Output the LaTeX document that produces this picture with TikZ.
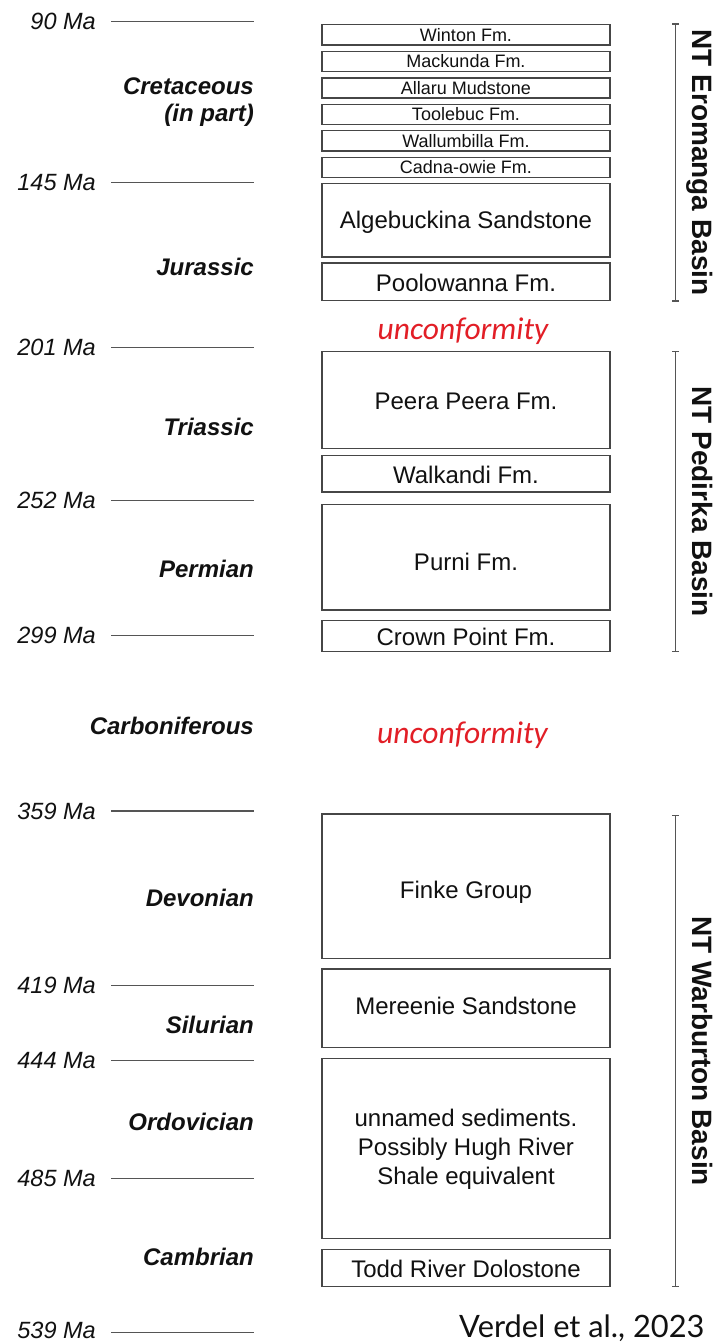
\documentclass[tikz,border=0pt]{standalone}
\usepackage{fontspec}
\setmainfont{Liberation Sans}
\newfontfamily\unconffont{Carlito}
\newfontfamily\creditfont{Lato}

\definecolor{rulegray}{RGB}{85,85,85}
\definecolor{boxgray}{RGB}{70,70,70}
\definecolor{unconfred}{RGB}{226,30,38}
\definecolor{ink}{RGB}{17,17,17}

% one lithostratigraphic unit: box between two depths plus its label
% #1 name, #2 top, #3 bottom, #4 label centre, #5 font size, #6 label
\newcommand\formation[6]{%
  \node[unitbox, minimum height={#3-#2}] (#1) at (466,{(#2+#3)/2}) {};
  \node[unittext, font=\fontsize{#5}{#5}\selectfont] (#1-t) at (466,#4) {#6};
}
% age tick with its label
\newcommand\agetick[3]{%
  \coordinate (#1-a) at (111,#2);
  \coordinate (#1-b) at (254,#2);
  \draw[tickline] (#1-a) -- (#1-b);
  \node[agelabel] (#1-l) at (96,#3) {#1 Ma};
}
% basin bracket on the right
\newcommand\basin[4]{%
  \coordinate (#1-top) at (675.7,#2);
  \coordinate (#1-bot) at (675.7,#3);
  \draw[bracketline] (#1-top) -- (#1-bot);
  \draw[bracketline] ([xshift=-3.5pt]#1-top) -- ([xshift=3.5pt]#1-top);
  \draw[bracketline] ([xshift=-3.5pt]#1-bot) -- ([xshift=3.5pt]#1-bot);
  \node[basinlabel] (#1-l) at (692,{(#2+#3)/2}) {#4};
}

\begin{document}
\begin{tikzpicture}[x=1pt,y=-1pt,
  unitbox/.style={draw=boxgray, line width=1.1pt, minimum width=288pt, inner sep=0pt},
  unittext/.style={text=ink, align=center, inner sep=0pt},
  tickline/.style={draw=rulegray, line width=1.2pt},
  agelabel/.style={anchor=east, inner sep=0pt, text=ink, font=\fontsize{23.5}{28}\selectfont\itshape},
  periodlabel/.style={anchor=east, inner sep=0pt, text=ink, font=\fontsize{24}{28}\selectfont\bfseries\itshape},
  bracketline/.style={draw=rulegray, line width=1.2pt},
  basinlabel/.style={rotate=-90, anchor=base, inner sep=0pt, text=ink, font=\fontsize{28}{32}\selectfont\bfseries},
  unconf/.style={text=unconfred, inner sep=0pt, font=\fontsize{31.5}{34}\selectfont\unconffont\itshape}]
\useasboundingbox (0,0) rectangle (719,1343);
\fill[white] (0,0) rectangle (719,1343);

% geological time scale
\agetick{90}{21.7}{21}
\agetick{145}{182.3}{182.3}
\agetick{201}{347.3}{347.3}
\agetick{252}{500.3}{500.3}
\agetick{299}{635.7}{635.7}
\agetick{359}{811}{811}
\agetick{419}{985.7}{985.7}
\agetick{444}{1060.5}{1060.5}
\agetick{485}{1178.5}{1178.5}
\agetick{539}{1332.7}{1330.5}

% periods
\node[periodlabel] (cret) at (254,86) {Cretaceous};
\node[periodlabel, anchor=base east] (cret2) at (254,122) {(in part)};
\node[periodlabel] (jur) at (254,266.7) {Jurassic};
\node[periodlabel] (tri) at (254,426.7) {Triassic};
\node[periodlabel] (perm) at (254,569) {Permian};
\node[periodlabel] (carb) at (254,726) {Carboniferous};
\node[periodlabel] (dev) at (254,898) {Devonian};
\node[periodlabel] (sil) at (254,1025) {Silurian};
\node[periodlabel] (ord) at (254,1122) {Ordovician};
\node[periodlabel] (camb) at (254,1257) {Cambrian};

% Eromanga Basin succession
\formation{winton}{24.3}{45}{34.8}{18}{Winton Fm.}
\formation{mackunda}{51.7}{71.7}{61.5}{18}{Mackunda Fm.}
\formation{allaru}{78}{98}{88}{18}{Allaru Mudstone}
\formation{toolebuc}{104.3}{124.3}{114.3}{18}{Toolebuc Fm.}
\formation{wallumbilla}{130.7}{151}{141}{18}{Wallumbilla Fm.}
\formation{cadna}{157.3}{177.3}{167.3}{18}{Cadna-owie Fm.}
\formation{algebuckina}{183.3}{257}{222.7}{24}{Algebuckina Sandstone}
\formation{poolowanna}{263}{300.3}{282.5}{24}{Poolowanna Fm.}

\node[unconf] (unconf1) at (463,331) {unconformity};

% Pedirka Basin succession
\formation{peera}{351.7}{448.7}{401.7}{24}{Peera Peera Fm.}
\formation{walkandi}{455.7}{492}{475}{24}{Walkandi Fm.}
\formation{purni}{504.7}{610}{561.7}{24}{Purni Fm.}
\formation{crown}{620.7}{651.3}{636.7}{24}{Crown Point Fm.}

\node[unconf] (unconf2) at (462.5,735) {unconformity};

% Warburton Basin succession
\formation{finke}{814}{958.3}{892.7}{24}{Finke Group}
\formation{mereenie}{969}{1047.3}{1006}{24}{Mereenie Sandstone}
\node[unitbox, minimum height={1238.3-1058.3}] (unnamed) at (466,1148.3) {};
\node[unittext, font=\fontsize{24}{29}\selectfont] (unnamed-t) at (466,1149) {unnamed sediments.\\Possibly Hugh River\\Shale equivalent};
\formation{todd}{1249.3}{1286.7}{1269.3}{24}{Todd River Dolostone}

% basins
\basin{eromanga}{24}{301}{NT Eromanga Basin}
\basin{pedirka}{351.7}{651.7}{NT Pedirka Basin}
\basin{warburton}{815.7}{1286.7}{NT Warburton Basin}

% source
\node[anchor=base west, inner sep=0pt, text=ink, font=\fontsize{30.8}{34}\selectfont\creditfont] (credit) at (459,1337.5) {Verdel et al., 2023};
\end{tikzpicture}
\end{document}
